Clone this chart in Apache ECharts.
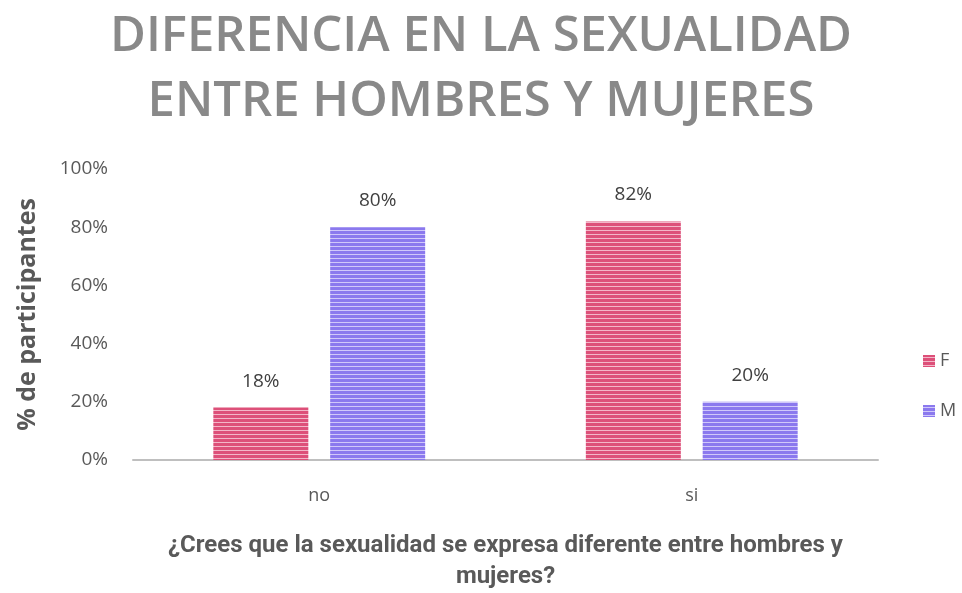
<!DOCTYPE html>
<html>
<head>
<meta charset="utf-8">
<script src="https://cdn.jsdelivr.net/npm/echarts@6/dist/echarts.min.js"></script>
<style>
  html, body { margin: 0; padding: 0; background: #fff; }
  #chart { width: 962px; height: 593px; }
</style>
</head>
<body>
<div id="chart"></div>
<script>
const categories = ['no', 'si'];
const serieF = [0.18, 0.82];
const serieM = [0.80, 0.20];
const yTicks = [0, 0.2, 0.4, 0.6, 0.8, 1];

// rayas horizontales como en el original
function stripes(base, light) {
    const c = document.createElement('canvas');
    c.width = 4;
    c.height = 4;
    const ctx = c.getContext('2d');
    ctx.fillStyle = base;
    ctx.fillRect(0, 0, 4, 4);
    ctx.fillStyle = light;
    ctx.fillRect(0, 2, 4, 1);
    return { image: c, repeat: 'repeat' };
}

const colorF = stripes('#dd5079', '#f3b6c8');
const colorM = stripes('#8b79ee', '#d0c8fa');
const pct = v => Math.round(v * 100) + '%';

const chart = echarts.init(document.getElementById('chart'));
chart.setOption({
    animation: false,
    title: {
        text: 'DIFERENCIA EN LA SEXUALIDAD\nENTRE HOMBRES Y MUJERES',
        left: 'center',
        top: 0,
        textStyle: {
            fontFamily: 'Open Sans',
            fontWeight: 600,
            fontSize: 49,
            lineHeight: 65,
            color: '#898989'
        }
    },
    legend: {
        orient: 'vertical',
        left: 918,
        top: 347,
        itemWidth: 12,
        itemHeight: 12,
        itemGap: 32,
        icon: 'rect',
        textStyle: { fontFamily: 'Open Sans', fontSize: 18, color: '#595959' },
        data: ['F', 'M']
    },
    grid: { left: 133, right: 84, top: 169, bottom: 132 },
    xAxis: {
        type: 'category',
        data: categories,
        name: '¿Crees que la sexualidad se expresa diferente entre hombres y\nmujeres?',
        nameLocation: 'middle',
        nameGap: 70,
        nameTextStyle: {
            fontFamily: 'Roboto',
            fontWeight: 'bold',
            fontSize: 24,
            lineHeight: 31,
            color: '#595959'
        },
        axisLine: { lineStyle: { color: '#bfbfbf', width: 2 } },
        axisTick: { show: false },
        axisLabel: { fontFamily: 'Open Sans', fontSize: 18, color: '#595959', margin: 27 }
    },
    yAxis: {
        type: 'value',
        min: 0,
        max: 1,
        interval: 0.2,
        name: '% de participantes',
        nameLocation: 'middle',
        nameGap: 93,
        nameTextStyle: {
            fontFamily: 'Open Sans',
            fontWeight: 'bold',
            fontSize: 25,
            color: '#595959'
        },
        splitLine: { show: false },
        axisLine: { show: false },
        axisTick: { show: false },
        axisLabel: {
            fontFamily: 'Open Sans',
            fontSize: 19,
            color: '#595959',
            margin: 25,
            formatter: v => yTicks.some(t => Math.abs(t - v) < 1e-9) ? pct(v) : ''
        }
    },
    series: [
        {
            name: 'F',
            type: 'bar',
            data: serieF,
            barWidth: '25.5%',
            barGap: '23%',
            itemStyle: { color: colorF },
            label: { show: true, position: 'top', distance: 17, fontFamily: 'Open Sans', fontSize: 19, color: '#404040', formatter: p => pct(p.value) }
        },
        {
            name: 'M',
            type: 'bar',
            data: serieM,
            barWidth: '25.5%',
            itemStyle: { color: colorM },
            label: { show: true, position: 'top', distance: 17, fontFamily: 'Open Sans', fontSize: 19, color: '#404040', formatter: p => pct(p.value) }
        }
    ]
});
</script>
</body>
</html>
